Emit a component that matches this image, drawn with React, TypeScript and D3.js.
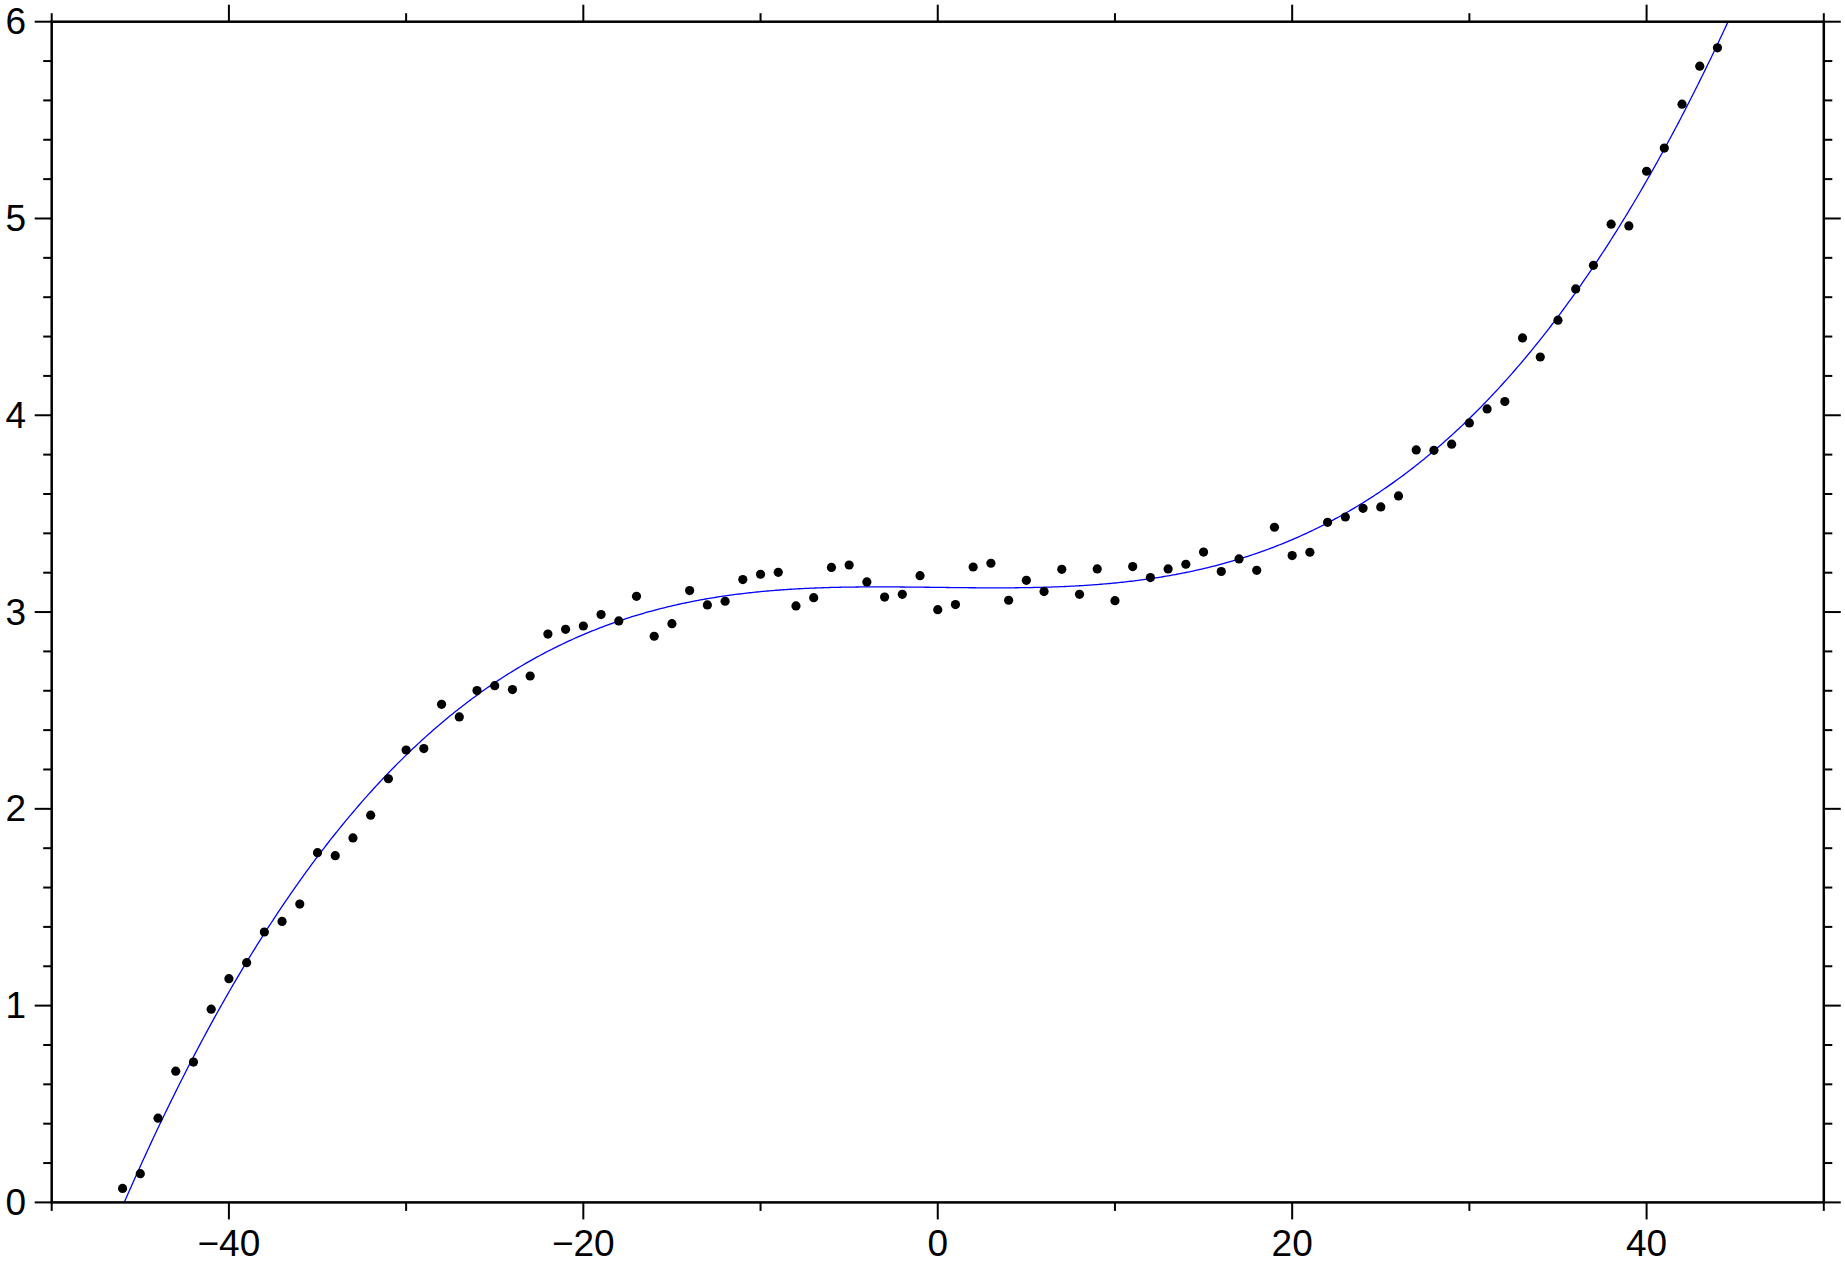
import React, { useMemo } from "react";
import * as d3 from "d3";

const xValues = [
  -46, -45, -44, -43, -42, -41, -40, -39, -38, -37, -36, -35, -34, -33, -32, -31,
  -30, -29, -28, -27, -26, -25, -24, -23, -22, -21, -20, -19, -18, -17, -16, -15,
  -14, -13, -12, -11, -10, -9, -8, -7, -6, -5, -4, -3, -2, -1, 0, 1, 2, 3, 4, 5,
  6, 7, 8, 9, 10, 11, 12, 13, 14, 15, 16, 17, 18, 19, 20, 21, 22, 23, 24, 25, 26,
  27, 28, 29, 30, 31, 32, 33, 34, 35, 36, 37, 38, 39, 40, 41, 42, 43, 44,
];

const yValues = [
  0.071, 0.146, 0.428, 0.667, 0.713, 0.982, 1.137, 1.218, 1.374, 1.428, 1.516,
  1.777, 1.762, 1.852, 1.968, 2.153, 2.299, 2.306, 2.531, 2.467, 2.601, 2.626,
  2.606, 2.675, 2.888, 2.912, 2.929, 2.987, 2.955, 3.08, 2.877, 2.941, 3.109,
  3.036, 3.055, 3.165, 3.192, 3.202, 3.031, 3.073, 3.227, 3.239, 3.153, 3.076,
  3.09, 3.185, 3.012, 3.038, 3.229, 3.248, 3.06, 3.161, 3.104, 3.217, 3.09,
  3.219, 3.058, 3.231, 3.175, 3.219, 3.243, 3.305, 3.206, 3.27, 3.212, 3.431,
  3.287, 3.304, 3.456, 3.483, 3.527, 3.534, 3.59, 3.824, 3.822, 3.853, 3.961,
  4.032, 4.07, 4.393, 4.296, 4.483, 4.642, 4.762, 4.971, 4.962, 5.24, 5.358,
  5.581, 5.774, 5.867,
];

const xDomain = [-50, 50];
const yDomain = [0, 6];
const xMajorTicks = [-40, -20, 0, 20, 40];
const xMinorTicks = [-50, -30, -10, 10, 30, 50];
const yMajorTicks = [0, 1, 2, 3, 4, 5, 6];
const fitDegree = 3;

// least-squares polynomial fit of the data (normalized x)
function polyFit(xs: number[], ys: number[], deg: number, s: number) {
  const n = deg + 1;
  const A: number[][] = Array.from({ length: n }, () => new Array(n + 1).fill(0));
  for (let k = 0; k < xs.length; k++) {
    const t = xs[k] / s;
    const pw: number[] = [];
    for (let i = 0; i < 2 * n; i++) pw.push(Math.pow(t, i));
    for (let i = 0; i < n; i++) {
      for (let j = 0; j < n; j++) A[i][j] += pw[i + j];
      A[i][n] += pw[i] * ys[k];
    }
  }
  for (let c = 0; c < n; c++) {
    let p = c;
    for (let r = c + 1; r < n; r++) if (Math.abs(A[r][c]) > Math.abs(A[p][c])) p = r;
    [A[c], A[p]] = [A[p], A[c]];
    for (let r = 0; r < n; r++) {
      if (r === c) continue;
      const f = A[r][c] / A[c][c];
      for (let j = c; j <= n; j++) A[r][j] -= f * A[c][j];
    }
  }
  const coef = A.map((row, i) => row[n] / row[i]);
  return (x: number) => coef.reduce((acc, c, i) => acc + c * Math.pow(x / s, i), 0);
}

export default function App() {
  const W = 1845;
  const H = 1263;
  const left = 51.7;
  const right = 1823.8;
  const top = 21.7;
  const bottom = 1202.4;

  const x = d3.scaleLinear().domain(xDomain).range([left, right]);
  const y = d3.scaleLinear().domain(yDomain).range([bottom, top]);

  const fitPath = useMemo(() => {
    const f = polyFit(xValues, yValues, fitDegree, 50);
    const pts: [number, number][] = [];
    for (let i = 0; i <= 1000; i++) {
      const xv = xDomain[0] + (i / 1000) * (xDomain[1] - xDomain[0]);
      pts.push([xv, f(xv)]);
    }
    return d3
      .line<[number, number]>()
      .x((d) => x(d[0]))
      .y((d) => y(d[1]))(pts);
  }, []);

  const yMinor = d3.range(0, 31).map((i) => i * 0.2).filter((v) => Math.abs(v - Math.round(v)) > 1e-6);
  const fmt = d3.format("d");
  const major = 17;
  const minor = 8.5;
  const font = "'Liberation Sans', Arial, Helvetica, sans-serif";
  const fs = 37;

  return (
    <svg
      width={W}
      height={H}
      style={{ position: "absolute", left: 0, top: 0, background: "#fff" }}
      xmlns="http://www.w3.org/2000/svg"
    >
      <defs>
        <clipPath id="plotclip">
          <rect x={left} y={top} width={right - left} height={bottom - top} />
        </clipPath>
      </defs>
      <rect x={0} y={0} width={W} height={H} fill="#fff" />

      <path d={fitPath || ""} fill="none" stroke="#0000ff" strokeWidth={1.3} clipPath="url(#plotclip)" />

      {xValues.map((xv, i) => (
        <circle key={i} cx={x(xv)} cy={y(yValues[i])} r={4.6} fill="#000" />
      ))}

      <g stroke="#000" strokeWidth={2}>
        {xMajorTicks.map((t) => (
          <g key={"xm" + t}>
            <line x1={x(t)} x2={x(t)} y1={bottom} y2={bottom + major} />
            <line x1={x(t)} x2={x(t)} y1={top} y2={top - major} />
          </g>
        ))}
        {xMinorTicks.map((t) => (
          <g key={"xn" + t}>
            <line x1={x(t)} x2={x(t)} y1={bottom} y2={bottom + minor} />
            <line x1={x(t)} x2={x(t)} y1={top} y2={top - minor} />
          </g>
        ))}
        {yMajorTicks.map((t) => (
          <g key={"ym" + t}>
            <line x1={left} x2={left - major} y1={y(t)} y2={y(t)} />
            <line x1={right} x2={right + major} y1={y(t)} y2={y(t)} />
          </g>
        ))}
        {yMinor.map((t) => (
          <g key={"yn" + t}>
            <line x1={left} x2={left - minor} y1={y(t)} y2={y(t)} />
            <line x1={right} x2={right + minor} y1={y(t)} y2={y(t)} />
          </g>
        ))}
      </g>

      <rect
        x={left}
        y={top}
        width={right - left}
        height={bottom - top}
        fill="none"
        stroke="#000"
        strokeWidth={2.5}
      />

      <g fontFamily={font} fontSize={fs} fill="#000">
        {xMajorTicks.map((t) => (
          <text key={"xl" + t} x={x(t)} y={bottom + 54} textAnchor="middle">
            {fmt(t)}
          </text>
        ))}
        {yMajorTicks.map((t) => (
          <text key={"yl" + t} x={26} y={y(t)} textAnchor="end" dominantBaseline="central">
            {fmt(t)}
          </text>
        ))}
      </g>
    </svg>
  );
}
